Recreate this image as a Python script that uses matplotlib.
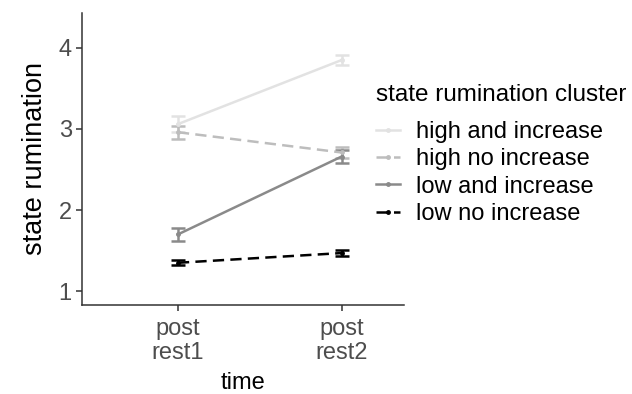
import matplotlib
matplotlib.use("Agg")
import matplotlib.pyplot as plt
from matplotlib.lines import Line2D

plt.rcParams['font.family'] = ['Liberation Sans', 'DejaVu Sans']

# rumination means and error bars per cluster
times = ["post\nrest1", "post\nrest2"]
clusters = ["high and increase", "high no increase", "low and increase", "low no increase"]
means = [
    [3.06, 3.85],
    [2.96, 2.71],
    [1.70, 2.66],
    [1.35, 1.47],
]
errs = [
    [0.10, 0.06],
    [0.08, 0.07],
    [0.08, 0.08],
    [0.03, 0.04],
]
colors = ["#e2e2e2", "#bdbdbd", "#8a8a8a", "#000000"]
styles = ["-", (0, (4.5, 2.5)), "-", (0, (4.5, 2.5))]

fig = plt.figure(figsize=(6.32, 3.94), dpi=100)
ax = fig.add_axes([0.13, 0.226, 0.509, 0.741])

x = [1, 2]
handles = []
for name, m, e, c, ls in zip(clusters, means, errs, colors, styles):
    ax.errorbar(x, m, yerr=e, color=c, linestyle=ls, linewidth=1.8,
                marker="o", markersize=2.5, capsize=4.7, capthick=1.8,
                elinewidth=1.8)
    handles.append(Line2D([], [], color=c, linestyle=ls, linewidth=1.8,
                          marker="o", markersize=2.5, label=name))

ax.set_xlim(0.415, 2.38)
ax.set_ylim(0.83, 4.43)
ax.set_xticks(x)
ax.set_xticklabels(times, linespacing=1.1)
ax.set_yticks([1, 2, 3, 4])

for side in ["top", "right"]:
    ax.spines[side].set_visible(False)
for side in ["left", "bottom"]:
    ax.spines[side].set_color("#333333")
    ax.spines[side].set_linewidth(1.1)
ax.tick_params(colors="#333333", labelcolor="#4d4d4d", labelsize=17,
               length=4.5, width=1.1, pad=3)
ax.tick_params(axis="x", pad=5)
ax.set_xlabel("time", fontsize=17, labelpad=6)
ax.set_ylabel("state rumination", fontsize=19.5, labelpad=8)

leg = fig.legend(handles=handles, title="state rumination cluster",
                 loc="upper left", bbox_to_anchor=(376 / 632, 1 - 84 / 394),
                 frameon=False, fontsize=17, title_fontsize=17.5,
                 handlelength=1.0, handletextpad=0.7, labelspacing=0.22,
                 borderpad=0.0, borderaxespad=0.0)
leg._legend_box.align = "left"
leg._legend_box.sep = 11

fig.savefig("out.png", dpi=100)
